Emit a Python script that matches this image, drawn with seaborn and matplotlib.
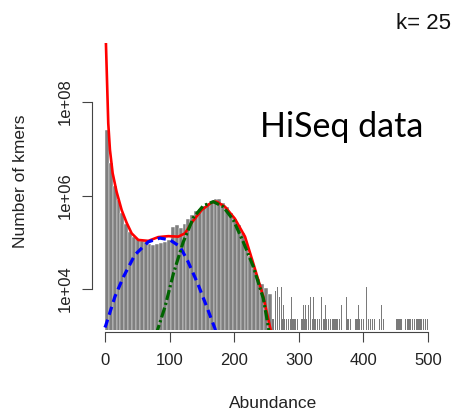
import numpy as np
import pandas as pd
import matplotlib
matplotlib.use("Agg")
import matplotlib.pyplot as plt
import seaborn as sns
from matplotlib.ticker import FixedLocator, FixedFormatter, NullLocator

# ---------------- data ----------------
# main histogram body (6-unit abundance bins, bin centres)
hist_abundance = [3, 9, 15, 21, 27, 33, 39, 45, 51, 57, 63, 69, 75, 81, 87, 93, 99,
                  105, 111, 117, 123, 129, 135, 141, 147, 153, 159, 165, 171, 177,
                  183, 189, 195, 201, 207, 213, 219, 225, 231, 237, 243, 249, 255]
hist_kmers = [2.5e7, 5.0e6, 1.6e6, 7.9e5, 4.2e5, 2.5e5, 1.66e5, 1.32e5, 1.2e5, 1.05e5,
              1.0e5, 9.1e4, 8.9e4, 9.1e4, 9.5e4, 1.0e5, 1.12e5, 2.1e5, 2.3e5, 2.0e5,
              2.5e5, 3.2e5, 3.8e5, 4.6e5, 5.2e5, 6.0e5, 6.8e5, 7.4e5, 8.5e5, 8.3e5,
              6.9e5, 5.75e5, 4.3e5, 3.2e5, 2.3e5, 1.6e5, 1.0e5, 5.2e4, 2.8e4, 1.6e4,
              1.26e4, 1.05e4, 7.9e3]

# sparse tail (single abundances): runs of low bars plus taller bars
tail_run_start = [259, 302, 374, 387, 408, 425, 449, 464, 511]
tail_run_end = [298, 366, 382, 400, 418, 433, 459, 500, 511]
tail_low_kmers = 2240
tail_tall_abundance = [262, 264, 267, 270, 273, 276, 279, 283, 286, 289, 291, 294, 297,
                       307, 310, 315, 318, 323, 328, 330, 335, 341, 353, 356, 361, 366,
                       374, 384, 392, 405, 413, 428, 433, 449]
tail_tall_kmers = [6700, 8950, 11200, 6700, 11200, 4470, 11200, 6700, 4470, 6700, 8950,
                   8950, 6700, 4470, 4470, 4470, 6700, 6700, 6700, 6700, 6700, 4470,
                   6700, 6700, 6700, 4470, 6700, 4470, 4470, 11200, 4470, 4470, 4470,
                   4470]

# fitted curves
fit_abundance = [1.0, 1.5, 3.6, 5.1, 7.7, 11.9, 18, 25.8, 33.6, 41.3, 51.6, 67, 82.5,
                 98, 113.5, 123.8, 134, 149.7, 165, 172.9, 185.8, 201, 216.7, 229.6,
                 245, 255.4, 258]
fit_kmers = [2.5e9, 1.8e9, 1.8e8, 3.5e7, 9.5e6, 3.0e6, 1.2e6, 4.9e5, 2.6e5, 1.55e5,
             1.12e5, 1.07e5, 1.29e5, 1.35e5, 1.32e5, 1.55e5, 2.6e5, 4.9e5, 7.1e5,
             7.4e5, 5.75e5, 3.2e5, 1.32e5, 3.5e4, 6.9e3, 1.55e3, 1.1e3]

peak1_abundance = [0, 1.5, 15.5, 28.4, 46.4, 67, 85, 100.6, 116, 128, 144, 157.4, 170, 172]
peak1_kmers = [1.5e3, 1.7e3, 6.9e3, 1.8e4, 5.4e4, 1.02e5, 1.23e5, 1.12e5, 8.1e4, 4.0e4,
               1.26e4, 4.2e3, 1.45e3, 1.15e3]

peak2_abundance = [79, 93, 106, 121, 137, 152, 167.6, 183, 198.6, 214, 229.6, 245,
                   252.8, 255]
peak2_kmers = [1.05e3, 4.2e3, 2.15e4, 1.0e5, 3.4e5, 6.0e5, 7.4e5, 5.75e5, 3.0e5,
               1.02e5, 3.0e4, 6.3e3, 1.55e3, 1.0e3]

x_ticks = [0, 100, 200, 300, 400, 500]
y_ticks = [1e4, 1e6, 1e8]
y_ticklabels = ["1e+04", "1e+06", "1e+08"]

# ---------------- figure ----------------
sns.set_style("white")
plt.rcParams["font.family"] = ["Liberation Sans", "DejaVu Sans"]

fig = plt.figure(figsize=(4.59, 4.17), dpi=100)
ax = fig.add_axes([0.2146, 0.2086, 0.7532, 0.6882])
ax.set_yscale("log")

main_df = pd.DataFrame({"abundance": hist_abundance, "kmers": hist_kmers})
sns.barplot(data=main_df, x="abundance", y="kmers", native_scale=True, width=1.0,
            color="#7f7f7f", saturation=1, edgecolor="white", linewidth=0.3,
            errorbar=None, ax=ax)

tail = {}
for s, e in zip(tail_run_start, tail_run_end):
    for a in range(s, e + 1):
        tail[a] = tail_low_kmers
for a, v in zip(tail_tall_abundance, tail_tall_kmers):
    tail[a] = v
tail_df = pd.DataFrame({"abundance": list(tail.keys()), "kmers": list(tail.values())})
sns.barplot(data=tail_df, x="abundance", y="kmers", native_scale=True, width=0.7,
            color="#7a7a7a", saturation=1, linewidth=0, errorbar=None, ax=ax)

sns.lineplot(x=fit_abundance, y=fit_kmers, color="#ff0000", lw=1.9, sort=False,
             estimator=None, ax=ax)
sns.lineplot(x=peak1_abundance, y=peak1_kmers, color="#0000ff", lw=2.3, sort=False,
             estimator=None, linestyle=(0, (2.6, 1.6)), ax=ax)
sns.lineplot(x=peak2_abundance, y=peak2_kmers, color="#006400", lw=2.3, sort=False,
             estimator=None, linestyle=(0, (3.2, 0.9, 0.7, 0.9)), ax=ax)

ax.set_xlim(-10, 525)
ax.set_ylim(1325, 1.83e9)

ax.xaxis.set_major_locator(FixedLocator(x_ticks))
ax.yaxis.set_major_locator(FixedLocator(y_ticks))
ax.yaxis.set_major_formatter(FixedFormatter(y_ticklabels))
ax.yaxis.set_minor_locator(NullLocator())
ax.xaxis.set_minor_locator(NullLocator())

sns.despine(ax=ax, offset={"left": 4.7, "bottom": 1.4}, trim=True)
for sp in ("left", "bottom"):
    ax.spines[sp].set_color("#444444")
    ax.spines[sp].set_linewidth(0.8)

ax.tick_params(axis="both", direction="out", length=7, width=0.8, color="#444444",
               labelsize=12, labelcolor="#222222", left=True, bottom=True)
ax.tick_params(axis="x", pad=8.5)
ax.tick_params(axis="y", pad=6.5)
for lab in ax.get_yticklabels():
    lab.set_rotation(90)
    lab.set_va("center")

ax.set_xlabel("Abundance", fontsize=12.5, color="#222222")
ax.set_ylabel("Number of kmers", fontsize=12.5, color="#222222")
ax.xaxis.set_label_coords(0.505, -0.230)
ax.yaxis.set_label_coords(-0.205, 0.519)
ax.grid(False)

fig.text(0.863, 0.930, "k= 25", fontsize=16, color="#111111", va="baseline")
fig.text(0.566, 0.672, "HiSeq data", fontsize=24.5, color="black", va="baseline",
         family=["Lato", "DejaVu Sans"])

fig.savefig("out.png", dpi=100)
